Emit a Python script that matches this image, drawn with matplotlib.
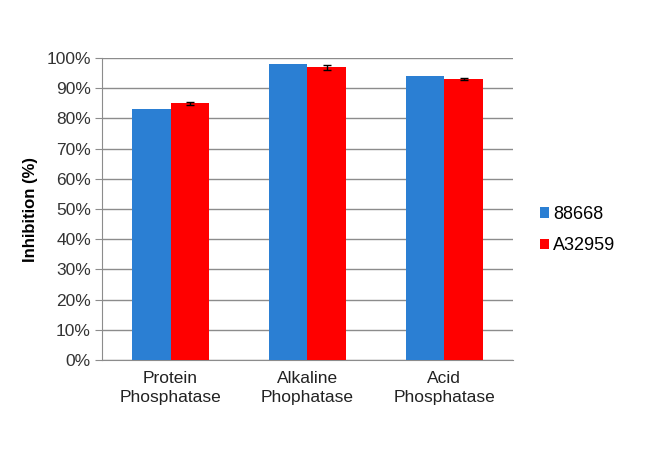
import matplotlib.pyplot as plt
import numpy as np

plt.rcParams['font.family'] = ['Liberation Sans', 'DejaVu Sans']

categories = ['Protein\nPhosphatase', 'Alkaline\nPhophatase', 'Acid\nPhosphatase']
series_names = ['88668', 'A32959']
vals_88668 = [83, 98, 94]
vals_a32959 = [85, 97, 93]
err_a32959 = [0.4, 0.8, 0.4]

fig = plt.figure(figsize=(6.5, 4.5), dpi=100)
ax = fig.add_axes([0.157, 0.2, 0.632, 0.671])

x = np.arange(len(categories))
width = 0.28

ax.bar(x - width / 2, vals_88668, width, color='#2b7fd3', label=series_names[0], zorder=3)
ax.bar(x + width / 2, vals_a32959, width, color='#ff0000', label=series_names[1], zorder=3,
       yerr=err_a32959, error_kw=dict(ecolor='black', elinewidth=1, capsize=3, capthick=1))

ax.set_xlim(-0.5, 2.5)
ax.set_ylim(0, 100)
ax.set_yticks(np.arange(0, 101, 10))
ax.set_yticklabels([f'{v}%' for v in range(0, 101, 10)])
ax.set_xticks(x)
ax.set_xticklabels(categories, linespacing=1.3)
ax.grid(axis='y', color='#8c8c8c', linewidth=1, zorder=0)

for s in ['top', 'right']:
    ax.spines[s].set_visible(False)
for s in ['left', 'bottom']:
    ax.spines[s].set_color('#8c8c8c')
ax.tick_params(axis='y', length=5, color='#8c8c8c', labelsize=12.5, labelcolor='#333333', pad=3)
ax.tick_params(axis='x', length=0, labelsize=12.5, labelcolor='#222222', pad=8)

ax.set_ylabel('Inhibition (%)', fontsize=12, fontweight='bold', labelpad=6)

ax.legend(loc='center left', bbox_to_anchor=(1.027, 0.43), frameon=False, fontsize=13,
          handlelength=0.5, handleheight=0.5, handletextpad=0.2, labelspacing=0.8)

fig.savefig('out.png', dpi=100)
